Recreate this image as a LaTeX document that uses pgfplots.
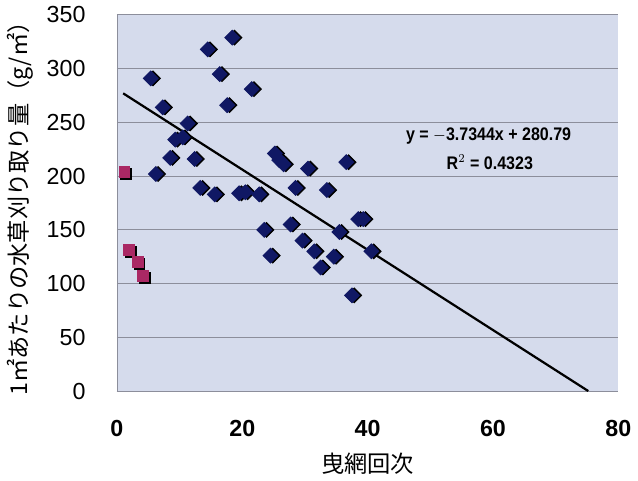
\documentclass[border=0pt]{standalone}
\usepackage{pgfplots}
\pgfplotsset{compat=1.18}
\usepackage{pgfplotstable}
\usepackage{fontspec}
\setmainfont{Liberation Sans}
\newfontfamily\jp{Noto Sans CJK JP}
\definecolor{bgc}{RGB}{213,219,236}
\definecolor{navy}{RGB}{16,24,100}
\definecolor{mag}{RGB}{170,40,100}
\definecolor{grd}{RGB}{140,142,155}

% haul number vs. weed removed per m2
\pgfplotstableread{
x y
5.4 291
6.2 202
7.3 264
8.5 217
9.3 234
10.5 236
11.3 249
12.4 216
13.3 189
14.5 318
15.6 183
16.4 295
17.6 266
18.4 329
19.5 184
20.5 185
21.5 281
22.7 183
23.5 150
24.5 126
25.2 221
25.9 215
26.6 211
27.7 155
28.5 189
29.6 140
30.5 207
31.5 130
32.5 115
33.5 187
34.6 125
35.5 148
36.6 213
37.5 89
38.5 160
39.3 160
40.6 130
}\bluedata

\pgfplotstableread{
x y
1.2 204
1.9 131
3.3 120
4.2 107
}\reddata

\begin{document}
\begin{tikzpicture}
\begin{axis}[
    scale only axis,
    width=248pt, height=186pt,
    xmin=0, xmax=80, ymin=0, ymax=350,
    xtick={0,20,...,80}, ytick={0,50,...,350},
    axis lines=left,
    axis line style={grd,-},
    major tick length=0pt,
    ymajorgrids,
    grid style={grd, line width=0.5pt},
    axis background/.style={fill=bgc},
    /pgf/number format/assume math mode=true,
    yticklabel style={font=\fontsize{11.5}{12}\selectfont, xshift=-12pt},
    xticklabel style={font=\fontsize{11.5}{12}\selectfont\bfseries, yshift=-11pt},
    xlabel={\jp 曳網回次},
    ylabel={\jp 1㎡あたりの水草刈り取り量（g/㎡）},
    label style={font=\fontsize{11.5}{13}\selectfont},
    xlabel style={yshift=-1pt},
    clip=false,
]
% shadows
\addplot[only marks, mark=square*, mark size=2.6pt,
    mark options={black, rotate=45, xshift=0.8pt, yshift=-0.8pt}] table {\bluedata};
\addplot[only marks, mark=square*, mark size=2.7pt,
    mark options={black, xshift=0.9pt, yshift=-0.9pt}] table {\reddata};
% points
\addplot[only marks, mark=square*, mark size=2.6pt,
    mark options={navy, rotate=45}] table {\bluedata};
\addplot[only marks, mark=square*, mark size=2.7pt,
    mark options={mag}] table {\reddata};
% linear trend
\addplot[black, line width=1.1pt] coordinates {(1,277.06) (75.2,0)};
\node[font=\fontsize{9}{10}\selectfont\bfseries, xscale=0.88] at (axis cs:59.3,237) {y = $-$3.7344x + 280.79};
\node[font=\fontsize{9}{10}\selectfont\bfseries, xscale=0.88] at (axis cs:59.5,213) {R$^2$ = 0.4323};
\end{axis}
\end{tikzpicture}
\end{document}
